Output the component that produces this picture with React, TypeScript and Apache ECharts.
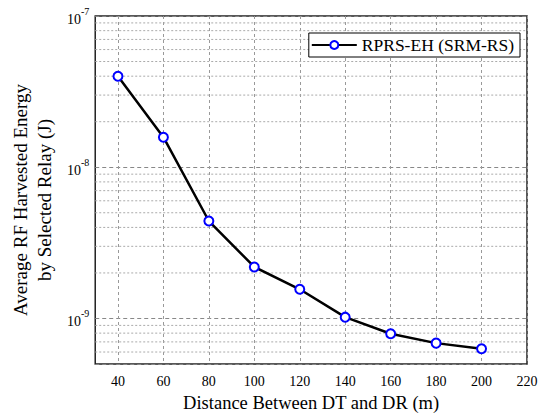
import React, { useEffect, useRef } from "react";
import * as echarts from "echarts";

const distances = [40, 60, 80, 100, 120, 140, 160, 180, 200];
const energy = [4.0e-8, 1.58e-8, 4.41e-9, 2.19e-9, 1.56e-9, 1.02e-9, 7.92e-10, 6.87e-10, 6.31e-10];
const xTicks = [40, 60, 80, 100, 120, 140, 160, 180, 200, 220];
const minorGrid = [
  6e-10, 7e-10, 8e-10, 9e-10,
  2e-9, 3e-9, 4e-9, 5e-9, 6e-9, 7e-9, 8e-9, 9e-9,
  2e-8, 3e-8, 4e-8, 5e-8, 6e-8, 7e-8, 8e-8, 9e-8,
];
const seriesName = "RPRS-EH (SRM-RS)";
const xName = "Distance Between DT and DR (m)";
const yName = "Average RF Harvested Energy\nby Selected Relay (J)";

const FONT = "Liberation Serif";

export default function App() {
  const ref = useRef<HTMLDivElement>(null);
  useEffect(() => {
    document.body.style.margin = "0";
    if (!ref.current) return;
    const chart = echarts.init(ref.current, null, { renderer: "svg" });
    chart.setOption({
      animation: false,
      backgroundColor: "#fff",
      textStyle: { fontFamily: FONT },
      grid: {
        left: 93,
        right: 17,
        top: 16,
        bottom: 56,
        show: true,
        borderColor: "#222",
        borderWidth: 1.5,
        backgroundColor: "transparent",
      },
      legend: {
        data: [seriesName],
        right: 24,
        top: 33,
        backgroundColor: "#fff",
        borderColor: "#000",
        borderWidth: 1,
        borderRadius: 0,
        padding: [3, 6, 3, 2],
        itemWidth: 45,
        itemHeight: 10,
        itemGap: 5,
        textStyle: { fontFamily: FONT, fontSize: 17.5, color: "#000" },
      },
      xAxis: {
        type: "value",
        min: 30,
        max: 220,
        name: xName,
        nameLocation: "middle",
        nameGap: 29,
        nameTextStyle: { fontFamily: FONT, fontSize: 18.5, color: "#000" },
        axisLine: { show: false },
        axisTick: { show: false, customValues: xTicks },
        axisLabel: {
          customValues: xTicks,
          fontFamily: FONT,
          fontSize: 14,
          color: "#000",
          margin: 10,
        },
        splitLine: {
          show: true,
          lineStyle: { color: "#999", type: [3, 3], width: 1 },
        },
      },
      yAxis: {
        type: "log",
        logBase: 10,
        min: 5e-10,
        max: 1e-7,
        name: yName,
        nameLocation: "middle",
        nameRotate: 90,
        nameGap: 31,
        nameTextStyle: {
          fontFamily: FONT,
          fontSize: 19,
          color: "#000",
          lineHeight: 24,
          padding: [0, 20, 0, 0],
        },
        axisLine: { show: false },
        axisTick: { show: false },
        axisLabel: {
          showMinLabel: false,
          margin: 6,
          formatter: (v: number) => {
            const e = Math.round(Math.log10(v));
            if (Math.abs(Math.log10(v) - e) > 1e-6) return "";
            return "{b|10}{s|" + e + "}";
          },
          rich: {
            b: { fontFamily: FONT, fontSize: 14, color: "#000", verticalAlign: "bottom", lineHeight: 20 },
            s: { fontFamily: FONT, fontSize: 10, color: "#000", verticalAlign: "top", lineHeight: 20 },
          },
        },
        splitLine: {
          show: true,
          lineStyle: { color: "#888", type: [4, 3], width: 1 },
        },
      },
      series: [
        {
          name: "minor-grid",
          type: "custom",
          z: 1,
          silent: true,
          clip: true,
          data: minorGrid.map((v) => [distances[0], v]),
          renderItem: (params: any, api: any) => {
            const cs = params.coordSys;
            const y = api.coord([api.value(0), api.value(1)])[1];
            return {
              type: "line",
              shape: { x1: cs.x, y1: y, x2: cs.x + cs.width, y2: y },
              style: { stroke: "#aaa", lineDash: [2, 2], lineWidth: 1, fill: null },
              silent: true,
            };
          },
        },
        {
          name: seriesName,
          type: "line",
          z: 5,
          data: distances.map((d, i) => [d, energy[i]]),
          lineStyle: { color: "#000", width: 2.5 },
          itemStyle: { color: "#fff", borderColor: "#0000ff", borderWidth: 2 },
          symbol: "circle",
          symbolSize: 9,
          showAllSymbol: true,
        },
      ],
    });
    return () => chart.dispose();
  }, []);
  return <div ref={ref} style={{ width: 544, height: 420 }} />;
}
